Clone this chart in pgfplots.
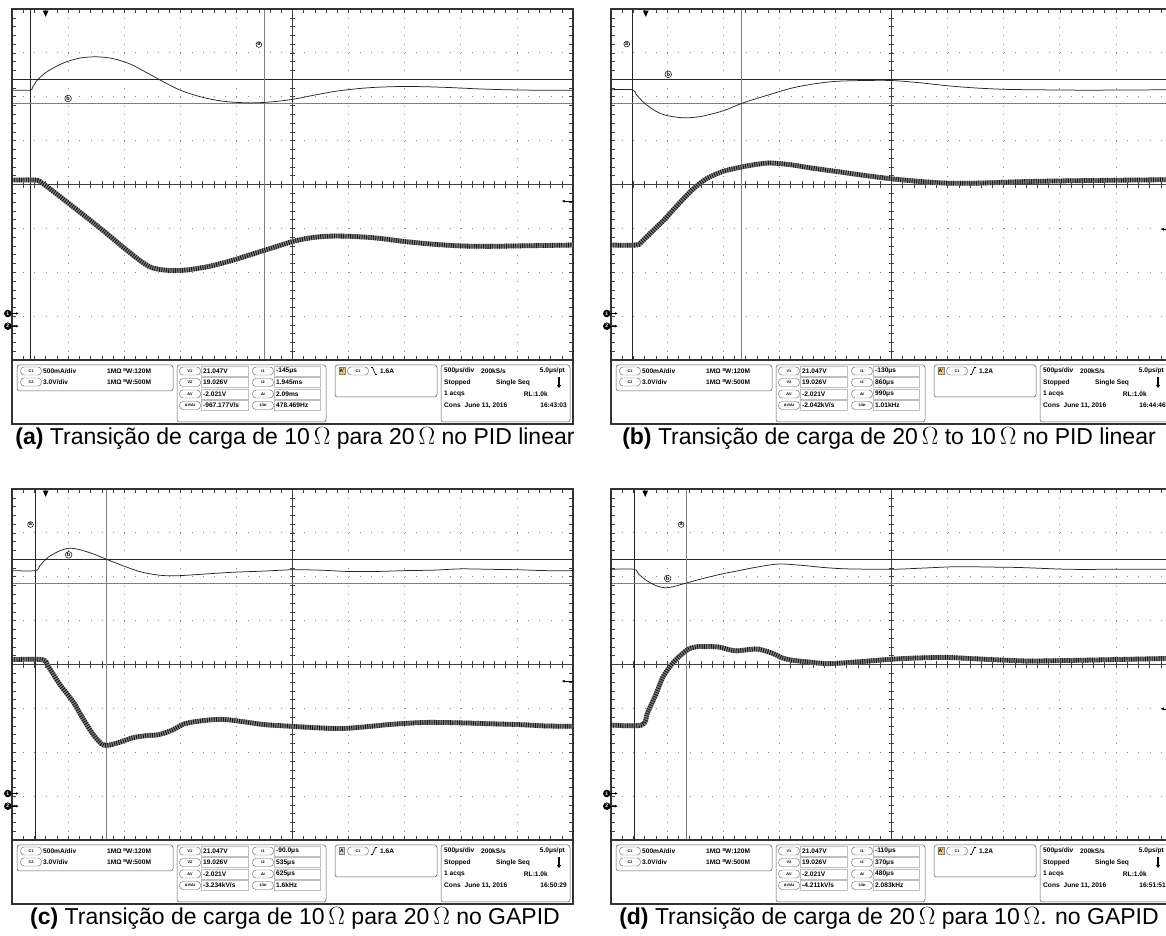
\documentclass[border=0pt]{standalone}
\usepackage{fontspec}
\setmainfont{Liberation Sans}
\usepackage{pgfplots}
\pgfplotsset{compat=1.18}
\usetikzlibrary{arrows.meta}

\definecolor{gridc}{gray}{0.55}
\definecolor{aorange}{HTML}{F6C46E}

\pgfplotsset{
  scopeax/.style={anchor=south west, scale only axis, width=561pt, height=351pt,
    xmin=0, xmax=10, ymin=0, ymax=8, y dir=reverse, hide axis, clip=true, no markers},
  volt/.style={black!85, line width=0.75pt, smooth},
  currbase/.style={black!50, line width=4.8pt, smooth},
  curr/.style={black!90, line width=4.8pt, smooth, dash pattern=on 0.9pt off 1.4pt}
}

\newcommand{\capf}{\fontsize{23}{27}\selectfont}
\newcommand{\infof}{\fontsize{6.6}{7}\bfseries}
\newcommand{\bw}{\raisebox{1.8pt}{\fontsize{4}{4}\selectfont B}\kern-0.2pt W}
\newcommand{\ovl}[3]{\node[draw=black!65, line width=0.4pt, rounded corners=3.5pt, minimum width=21pt, minimum height=8pt, inner sep=0pt, font=\fontsize{3.8}{4}\bfseries] at (#1,#2) {#3};}

% grid of the scope screen: x0, Ytop, vx1, vx2, hy1, hy2
\newcommand{\screen}[6]{%
\begin{scope}[shift={(#1pt,936pt-#2pt)}, x=56.1pt, y=-43.875pt]
 \foreach \i in {1,2,3,4,6,7,8,9}
   \draw[gridc, line width=0.8pt, dash pattern=on 0.8pt off 7.975pt] (\i,0) -- (\i,8);
 \foreach \j in {1,2,3,5,6,7}
   \draw[gridc, line width=0.8pt, dash pattern=on 0.8pt off 10.42pt] (0,\j) -- (10,\j);
 \draw[black!75, line width=0.6pt] (5,0) -- (5,8) (0,4) -- (10,4);
 \foreach \k in {0.2,0.4,...,9.9} {
   \draw[black!75, line width=0.5pt] (\k,3.93) -- (\k,4.07);
   \draw[black!75, line width=0.5pt] (\k,0) -- (\k,0.1);
   \draw[black!75, line width=0.5pt] (\k,8) -- (\k,7.9);}
 \foreach \k in {0.2,0.4,...,7.9} {
   \draw[black!75, line width=0.5pt] (4.95,\k) -- (5.05,\k);
   \draw[black!75, line width=0.5pt] (0,\k) -- (0.08,\k);
   \draw[black!75, line width=0.5pt] (10,\k) -- (9.92,\k);}
 \draw[black!85, line width=0.6pt] (#3,0) -- (#3,8) (0,#5) -- (10,#5);
 \draw[black!50, line width=0.7pt] (#4,0) -- (#4,8) (0,#6) -- (10,#6);
 \draw[black!80, line width=1.3pt] (0,0) rectangle (10,8);
\end{scope}}

% marks: x0, Ytop, ax, ay, bx, by, trigger x, arrow y
\newcommand{\scopemarks}[8]{%
\begin{scope}[shift={(#1pt,936pt-#2pt)}, x=56.1pt, y=-43.875pt]
 \node[circle, draw=black, fill=white, line width=0.5pt, inner sep=0.5pt, font=\fontsize{5.5}{5.5}\bfseries] at (#3,#4) {a};
 \node[circle, draw=black, fill=white, line width=0.5pt, inner sep=0.5pt, font=\fontsize{5.5}{5.5}\bfseries] at (#5,#6) {b};
 \fill[black] (#7-0.05,0.04) -- (#7+0.05,0.04) -- (#7,0.18) -- cycle;
 \draw[black, line width=0.6pt, -{Latex[length=3pt,width=3pt]}] (10,#8) -- (9.8,#8);
 \node[circle, fill=black, inner sep=0pt, minimum size=7.5pt, text=white, font=\fontsize{5}{5}\bfseries] at (-0.075,6.94) {1};
 \draw[-{Latex[length=2.5pt,width=2.5pt]}, line width=0.6pt] (-0.01,6.94) -- (0.12,6.94);
 \node[circle, fill=black, inner sep=0pt, minimum size=7.5pt, text=white, font=\fontsize{5}{5}\bfseries] at (-0.075,7.23) {2};
 \draw[-{Latex[length=2.5pt,width=2.5pt]}, line width=0.6pt] (-0.01,7.23) -- (0.12,7.23);
\end{scope}}

% info box: x0, Ytop, t1, t2, dt, dvdt, 1/dt, time
\newcommand{\infobox}[8]{%
\begin{scope}[shift={(#1pt,936pt-#2pt)}, x=1pt, y=-1pt, every node/.style={inner sep=0pt}]
 \draw[line width=1.3pt, black!80] (0,-2) -- (0,62) -- (561,62) -- (561,-2);
 \draw[black!65, line width=0.5pt, rounded corners=2.5pt] (5,3) rectangle (161,29);
 \draw[black!65, line width=0.5pt, rounded corners=2.5pt] (165,3) rectangle (314,60);
 \draw[black!65, line width=0.5pt, rounded corners=2.5pt] (323,3) rectangle (425,35);
 \draw[black!65, line width=0.5pt, rounded corners=2.5pt] (429,3) rectangle (558,60);
 \ovl{19}{9}{C1} \ovl{19}{20}{C2}
 \node[anchor=west, font=\infof] at (31,9) {500mA/div};
 \node[anchor=west, font=\infof] at (31,20) {3.0V/div};
 \node[anchor=west, font=\infof] at (95,9) {1MΩ \bw:120M};
 \node[anchor=west, font=\infof] at (95,20) {1MΩ \bw:500M};
 \foreach \yy in {9,20.5,32,43.5} {
   \draw[black!25, line width=0.4pt] (189,\yy-5) rectangle (236,\yy+5);
   \draw[black!25, line width=0.4pt] (262,\yy-5) rectangle (308,\yy+5);}
 \ovl{178}{9}{V1} \ovl{178}{20.5}{V2} \ovl{178}{32}{ΔV} \ovl{178}{43.5}{ΔV/Δt}
 \ovl{251}{9}{t1} \ovl{251}{20.5}{t2} \ovl{251}{32}{Δt} \ovl{251}{43.5}{1/Δt}
 \node[anchor=west, font=\infof] at (191,9) {21.047V};
 \node[anchor=west, font=\infof] at (191,20.5) {19.026V};
 \node[anchor=west, font=\infof] at (191,32) {-2.021V};
 \node[anchor=west, font=\infof] at (191,43.5) {#6};
 \node[anchor=west, font=\infof] at (264,9) {#3};
 \node[anchor=west, font=\infof] at (264,20.5) {#4};
 \node[anchor=west, font=\infof] at (264,32) {#5};
 \node[anchor=west, font=\infof] at (264,43.5) {#7};
 \node[anchor=west, font=\infof] at (432,9) {500μs/div};
 \node[anchor=west, font=\infof] at (469,9) {200kS/s};
 \node[anchor=east, font=\infof] at (553,9) {5.0μs/pt};
 \node[anchor=west, font=\infof] at (432,20.5) {Stopped};
 \node[anchor=west, font=\infof] at (484,20.5) {Single Seq};
 \draw[line width=1.2pt, -{Triangle[length=3pt,width=4pt]}] (547,15) -- (547,26);
 \node[anchor=west, font=\infof] at (432,32) {1 acqs};
 \node[anchor=east, font=\infof] at (536,32) {RL:1.0k};
 \node[anchor=west, font=\infof] at (432,43.5) {Cons\hspace{4pt}June 11, 2016};
 \node[anchor=east, font=\infof] at (555,43.5) {#8};
\end{scope}}

\newcommand{\fallslope}{\draw[line width=0.7pt] (359,5.5) -- (360.5,5.5) -- (363.5,12.5) -- (365,12.5);}
\newcommand{\riseslope}{\draw[line width=0.7pt] (359,12.5) -- (360.5,12.5) -- (363.5,5.5) -- (365,5.5);}
% trigger: x0, Ytop, label, fill, slope, level
\newcommand{\trig}[6]{%
\begin{scope}[shift={(#1pt,936pt-#2pt)}, x=1pt, y=-1pt]
 \node[fill=#4, draw=black!50, line width=0.3pt, inner sep=0.8pt, minimum height=7pt, font=\fontsize{5}{5}\bfseries] at (330,9) {#3};
 \ovl{346}{9}{C1}
 #5
 \node[anchor=west, inner sep=0pt, font=\infof] at (368,9) {#6};
\end{scope}}

\begin{document}
\begin{tikzpicture}
\useasboundingbox (0pt,0pt) rectangle (1166pt,936pt);
\clip (0pt,0pt) rectangle (1166pt,936pt);

% ---------------- (a)
\screen{12}{9}{0.33}{4.49}{1.60}{2.14}
\begin{axis}[scopeax, at={(12pt,576pt)}]
\addplot[volt] coordinates {(0,1.85) (0.33,1.85) (0.36,1.80) (0.45,1.62) (0.6,1.45) (0.8,1.30) (1.0,1.19) (1.25,1.11) (1.52,1.09) (1.8,1.13) (2.1,1.25) (2.4,1.45) (2.7,1.66) (3.0,1.85) (3.3,1.98) (3.6,2.07) (3.9,2.12) (4.27,2.14) (4.6,2.12) (5.0,2.06) (5.4,1.96) (5.8,1.87) (6.3,1.80) (6.8,1.77) (7.3,1.77) (7.8,1.79) (8.3,1.82) (8.8,1.84) (9.3,1.85) (10,1.85)};
\pgfplotstableread{
x y
0 3.90
0.42 3.90
0.55 3.98
0.8 4.22
1.1 4.52
1.4 4.82
1.7 5.13
2.0 5.45
2.3 5.75
2.5 5.90
2.8 5.96
3.1 5.95
3.5 5.87
3.9 5.74
4.3 5.58
4.7 5.42
5.0 5.30
5.3 5.22
5.6 5.18
6.0 5.18
6.5 5.22
7.0 5.30
7.5 5.36
8.0 5.40
8.5 5.41
9.0 5.40
10 5.38
}\curA
\addplot[currbase] table {\curA};
\addplot[curr] table {\curA};
\end{axis}
\scopemarks{12}{9}{4.40}{0.81}{1.00}{2.04}{0.60}{4.38}
\infobox{12}{362}{-145μs}{1.945ms}{2.09ms}{-967.177V/s}{478.469Hz}{16:43:03}
\trig{12}{362}{A'}{aorange}{\fallslope}{1.6A}
\node[font=\capf] at (295pt,498pt) {\textbf{(a)} Transição de carga de 10\,$\Omega$ para 20\,$\Omega$ no PID linear};

% ---------------- (b)
\screen{611}{9}{0.38}{2.33}{1.61}{2.15}
\begin{axis}[scopeax, at={(611pt,576pt)}]
\addplot[volt] coordinates {(0,1.84) (0.38,1.84) (0.45,1.95) (0.6,2.15) (0.8,2.33) (1.0,2.43) (1.3,2.48) (1.6,2.45) (2.0,2.32) (2.33,2.15) (2.7,2.00) (3.2,1.81) (3.6,1.71) (4.0,1.65) (4.5,1.63) (5.0,1.63) (5.5,1.68) (6.0,1.75) (6.5,1.80) (7.0,1.83) (7.5,1.84) (8.5,1.85) (10,1.84)};
\pgfplotstableread{
x y
0 5.38
0.45 5.38
0.55 5.30
0.75 5.05
0.95 4.80
1.2 4.45
1.45 4.12
1.7 3.87
2.0 3.70
2.33 3.60
2.6 3.54
2.84 3.51
3.2 3.55
3.6 3.63
4.0 3.70
4.5 3.79
5.0 3.87
5.5 3.93
6.0 3.97
6.5 3.97
7.0 3.95
7.5 3.93
8.5 3.91
10 3.89
}\curB
\addplot[currbase] table {\curB};
\addplot[curr] table {\curB};
\end{axis}
\scopemarks{611}{9}{0.28}{0.80}{1.02}{1.49}{0.62}{5.02}
\infobox{611}{362}{-130μs}{860μs}{990μs}{-2.042kV/s}{1.01kHz}{16:44:46}
\trig{611}{362}{A'}{aorange}{\riseslope}{1.2A}
\node[font=\capf] at (889pt,498pt) {\textbf{(b)} Transição de carga de 20\,$\Omega$ to 10\,$\Omega$ no PID linear};

% ---------------- (c)
\screen{12}{489}{0.42}{1.68}{1.60}{2.14}
\begin{axis}[scopeax, at={(12pt,96pt)}]
\addplot[volt] coordinates {(0,1.86) (0.42,1.86) (0.5,1.74) (0.65,1.55) (0.85,1.41) (1.02,1.35) (1.2,1.38) (1.45,1.48) (1.68,1.60) (2.0,1.76) (2.3,1.89) (2.6,1.96) (2.88,1.98) (3.3,1.95) (3.9,1.90) (4.5,1.87) (5.0,1.84) (5.5,1.85) (6.0,1.88) (6.5,1.88) (7.0,1.86) (7.5,1.85) (8.0,1.82) (8.5,1.83) (9.0,1.84) (9.5,1.86) (10,1.86)};
\pgfplotstableread{
x y
0 3.89
0.54 3.89
0.65 4.05
0.85 4.45
1.09 4.85
1.25 5.20
1.45 5.60
1.64 5.84
1.9 5.78
2.15 5.67
2.4 5.62
2.61 5.60
2.85 5.50
3.08 5.35
3.4 5.28
3.74 5.25
4.1 5.30
4.5 5.37
5.0 5.41
5.4 5.44
5.86 5.46
6.3 5.42
6.8 5.36
7.39 5.32
8.0 5.33
8.5 5.35
9.05 5.37
9.5 5.40
10 5.41
}\curC
\addplot[currbase] table {\curC};
\addplot[curr] table {\curC};
\end{axis}
\scopemarks{12}{489}{0.33}{0.81}{1.01}{1.50}{0.60}{4.38}
\infobox{12}{842}{-90.0μs}{535μs}{625μs}{-3.234kV/s}{1.6kHz}{16:50:29}
\trig{12}{842}{A}{black!15}{\riseslope}{1.6A}
\node[font=\capf] at (295pt,18pt) {\textbf{(c)} Transição de carga de 10\,$\Omega$ para 20\,$\Omega$ no GAPID};

% ---------------- (d)
\screen{611}{489}{0.41}{1.35}{1.61}{2.14}
\begin{axis}[scopeax, at={(611pt,96pt)}]
\addplot[volt] coordinates {(0,1.83) (0.41,1.83) (0.5,1.95) (0.65,2.10) (0.8,2.20) (0.95,2.25) (1.1,2.23) (1.35,2.14) (1.7,2.02) (2.0,1.93) (2.24,1.87) (2.6,1.78) (2.99,1.71) (3.4,1.74) (3.8,1.79) (4.21,1.82) (5.0,1.83) (5.6,1.80) (6.18,1.77) (6.8,1.78) (7.3,1.79) (8.16,1.83) (9,1.83) (10,1.83)};
\pgfplotstableread{
x y
0 5.38
0.55 5.38
0.65 5.10
0.8 4.68
0.92 4.30
1.05 4.05
1.18 3.86
1.38 3.65
1.58 3.59
1.91 3.60
2.1 3.66
2.24 3.69
2.45 3.66
2.63 3.65
2.89 3.75
3.05 3.85
3.22 3.90
3.5 3.94
3.88 3.98
4.4 3.94
5.0 3.88
5.5 3.85
5.99 3.84
6.5 3.87
7.0 3.90
7.5 3.92
8.5 3.90
10 3.86
}\curD
\addplot[currbase] table {\curD};
\addplot[curr] table {\curD};
\end{axis}
\scopemarks{611}{489}{1.25}{0.81}{1.01}{2.04}{0.61}{5.01}
\infobox{611}{842}{-110μs}{370μs}{480μs}{-4.211kV/s}{2.083kHz}{16:51:51}
\trig{611}{842}{A'}{aorange}{\riseslope}{1.2A}
\node[font=\capf] at (889pt,18pt) {\textbf{(d)} Transição de carga de 20\,$\Omega$ para 10\,$\Omega$. no GAPID};
\end{tikzpicture}
\end{document}
